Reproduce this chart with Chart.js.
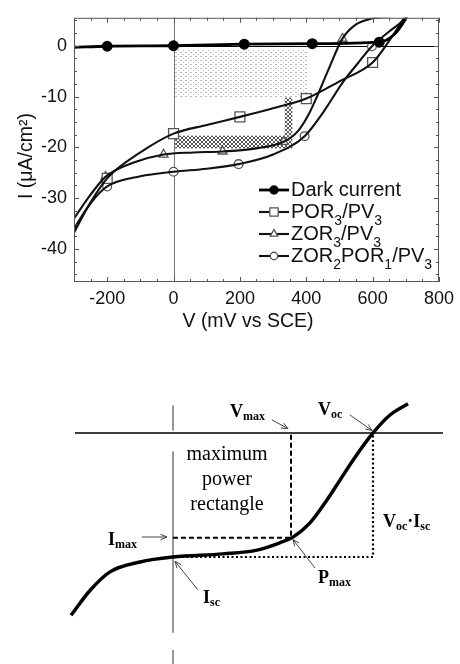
<!DOCTYPE html>
<html>
<head>
<meta charset="utf-8">
<script src="https://cdn.jsdelivr.net/npm/chart.js@4.4.1/dist/chart.umd.min.js"></script>
<style>
  body { margin: 0; background: #fff; }
  canvas { position: absolute; left: 0; }
  #ivChart { top: 0; }
  #sketchChart { top: 335px; }
</style>
</head>
<body>
<canvas id="ivChart" width="460" height="335"></canvas>
<canvas id="sketchChart" width="460" height="329"></canvas>
<script>
// I-V curves, V in mV vs SCE, I in uA/cm2
const darkV = [-300, -200, 0, 213, 418, 620, 665, 695, 720];
const darkI = [-0.3, -0.1, 0, 0.3, 0.4, 0.7, 2.2, 4.8, 8.0];
const darkMarkV = [-200, 0, 213, 418, 620];
const darkMarkI = [-0.1, 0, 0.3, 0.4, 0.7];

const porV = [-300, -250, -200, -100, 0, 100, 200, 300, 400, 500, 600, 645, 695, 730];
const porI = [-36.8, -30.8, -26.1, -21.0, -17.3, -15.6, -14.0, -12.3, -10.4, -7.0, -3.3, 0.5, 5.5, 9.5];
const porMarkV = [-200, 0, 200, 400, 600];
const porMarkI = [-26.1, -17.3, -14.0, -10.4, -3.3];

const zorV = [-300, -250, -205, -120, -30, 60, 148, 250, 332, 375, 405, 435, 470, 509, 550, 600, 660, 720];
const zorI = [-34.0, -29.3, -25.8, -23.0, -21.4, -21.0, -20.8, -20.2, -18.9, -16.8, -13.8, -9.6, -4.2, 1.4, 4.2, 5.4, 5.9, 7.0];
const zorMarkV = [-205, -30, 148, 332, 509];
const zorMarkI = [-25.8, -21.4, -20.8, -18.9, 1.4];

const zor2V = [-300, -250, -200, -100, 0, 100, 196, 300, 395, 450, 510, 555, 598, 650, 700, 730];
const zor2I = [-36.0, -31.0, -27.7, -25.7, -24.8, -24.2, -23.3, -21.4, -17.8, -13.2, -7.2, -3.5, -0.1, 2.8, 5.5, 8.5];
const zor2MarkV = [-200, 0, 196, 395, 598];
const zor2MarkI = [-27.7, -24.8, -23.3, -17.8, -0.1];

const seriesLabels = [
  [['Dark current', 0]],
  [['POR', 0], ['3', 1], ['/PV', 0], ['3', 1]],
  [['ZOR', 0], ['3', 1], ['/PV', 0], ['3', 1]],
  [['ZOR', 0], ['2', 1], ['POR', 0], ['1', 1], ['/PV', 0], ['3', 1]]
];

// shaded power areas: [V from, V to, I from, I to]
const dottedBox = [5, 403, -0.8, -10.2];
const hatchBoxes = [[5, 358, -17.7, -20.2], [335, 358, -10.2, -17.7]];

const xTicks = [-200, 0, 200, 400, 600, 800];
const yTicks = [-40, -30, -20, -10, 0];

// schematic curve (V / Voc, I / Isc)
const sketchV = [-0.51, -0.415, -0.315, -0.165, 0, 0.25, 0.42, 0.535, 0.60, 0.685, 0.77, 0.835, 0.90, 1.0, 1.085, 1.175];
const sketchI = [-1.47, -1.27, -1.12, -1.04, -1.0, -0.975, -0.945, -0.885, -0.84, -0.725, -0.54, -0.38, -0.22, 0, 0.145, 0.235];
const Voc = 1.0, Isc = -1.0, Vmax = 0.59, Imax = -0.845;

const pts = (xs, ys) => xs.map((v, k) => ({ x: v, y: ys[k] }));

function tile(w, h, color, cells) {
  const c = document.createElement('canvas');
  c.width = w; c.height = h;
  const g = c.getContext('2d');
  g.fillStyle = color;
  cells.forEach(([cx, cy]) => g.fillRect(cx, cy, 1, 1));
  return c;
}

// draws text with subscripts, returns end x
function drawParts(ctx, parts, x, y, font, subFont, subDy) {
  parts.forEach(([txt, sub]) => {
    ctx.font = sub ? subFont : font;
    ctx.fillText(txt, x, y + (sub ? subDy : 0));
    x += ctx.measureText(txt).width;
  });
  return x;
}

const ivDecor = {
  id: 'ivDecor',
  beforeDatasetsDraw(chart) {
    const { ctx, chartArea: a, scales: { x, y } } = chart;
    ctx.save();
    const box = (b) => [x.getPixelForValue(b[0]), y.getPixelForValue(b[2]),
      x.getPixelForValue(b[1]) - x.getPixelForValue(b[0]),
      y.getPixelForValue(b[3]) - y.getPixelForValue(b[2])];

    ctx.fillStyle = ctx.createPattern(tile(5, 4, '#b8b8b8', [[0, 0], [1, 0], [3, 2]]), 'repeat');
    ctx.fillRect(...box(dottedBox));
    ctx.fillStyle = ctx.createPattern(tile(4, 4, '#555',
      [[0, 0], [1, 1], [2, 2], [3, 3], [3, 0], [2, 1], [1, 2], [0, 3]]), 'repeat');
    hatchBoxes.forEach(b => ctx.fillRect(...box(b)));

    // zero lines
    ctx.lineWidth = 1;
    ctx.strokeStyle = '#777';
    const x0 = Math.round(x.getPixelForValue(0)) + 0.5;
    ctx.beginPath(); ctx.moveTo(x0, a.top); ctx.lineTo(x0, a.bottom); ctx.stroke();
    ctx.strokeStyle = '#000';
    const y0 = Math.round(y.getPixelForValue(0)) + 0.5;
    ctx.beginPath(); ctx.moveTo(a.left, y0); ctx.lineTo(a.right, y0); ctx.stroke();
    ctx.restore();
  },
  afterDatasetsDraw(chart) {
    const { ctx, chartArea: a, scales: { x, y } } = chart;
    ctx.save();
    // frame and inward ticks
    ctx.strokeStyle = '#555';
    ctx.lineWidth = 1;
    ctx.strokeRect(a.left + 0.5, a.top + 0.5, a.width - 1, a.height - 1);
    ctx.beginPath();
    for (let v = x.min; v <= x.max; v += 50) {
      const px = Math.round(x.getPixelForValue(v)) + 0.5;
      const len = v % 200 === 0 ? 5 : 3;
      ctx.moveTo(px, a.bottom); ctx.lineTo(px, a.bottom - len);
      ctx.moveTo(px, a.top); ctx.lineTo(px, a.top + len);
    }
    for (let i = -45; i <= y.max; i += 2.5) {
      const py = Math.round(y.getPixelForValue(i)) + 0.5;
      const len = i % 10 === 0 ? 5 : 3;
      ctx.moveTo(a.left, py); ctx.lineTo(a.left + len, py);
      ctx.moveTo(a.right, py); ctx.lineTo(a.right - len, py);
    }
    ctx.stroke();

    // legend
    ctx.fillStyle = '#111';
    ctx.textBaseline = 'middle';
    const rowY = [190, 212, 234, 256];
    seriesLabels.forEach((parts, k) => {
      const ds = chart.data.datasets[k + 4];
      const line = chart.data.datasets[k];
      const ly = rowY[k];
      ctx.strokeStyle = line.borderColor;
      ctx.lineWidth = line.borderWidth;
      ctx.beginPath(); ctx.moveTo(259, ly); ctx.lineTo(289, ly); ctx.stroke();
      ctx.fillStyle = ds.pointBackgroundColor;
      ctx.strokeStyle = ds.pointBorderColor;
      ctx.lineWidth = ds.pointBorderWidth;
      Chart.helpers.drawPoint(ctx, {
        pointStyle: ds.pointStyle, radius: ds.pointRadius * 0.85, rotation: 0,
        borderWidth: ds.pointBorderWidth
      }, 274, ly);
      ctx.fillStyle = '#111';
      drawParts(ctx, parts, 291, ly, '20px "Liberation Sans"', '14px "Liberation Sans"', 9);
    });

    // axis titles
    ctx.font = '19.5px "Liberation Sans"';
    ctx.textAlign = 'center';
    ctx.fillText('V (mV vs SCE)', 248, 322);
    ctx.translate(27, 156);
    ctx.rotate(-Math.PI / 2);
    ctx.fillText('I (\u03bcA/cm\u00b2)', 0, 0);
    ctx.restore();
  }
};

const curveStyle = (color, width) => ({
  borderColor: color, borderWidth: width, pointRadius: 0, fill: false,
  tension: 0.4, cubicInterpolationMode: 'monotone'
});
const markStyle = (style, r, bg, border) => ({
  showLine: false, pointStyle: style, pointRadius: r, pointBackgroundColor: bg,
  pointBorderColor: border, pointBorderWidth: 1.3, borderColor: border
});

new Chart(document.getElementById('ivChart'), {
  type: 'line',
  data: {
    datasets: [
      { label: 'Dark current', data: pts(darkV, darkI), ...curveStyle('#000', 2.8) },
      { label: 'POR3/PV3', data: pts(porV, porI), ...curveStyle('#111', 2.1) },
      { label: 'ZOR3/PV3', data: pts(zorV, zorI), ...curveStyle('#111', 2.1) },
      { label: 'ZOR2POR1/PV3', data: pts(zor2V, zor2I), ...curveStyle('#111', 2.1) },
      { data: pts(darkMarkV, darkMarkI), ...markStyle('circle', 4.8, '#000', '#000') },
      { data: pts(porMarkV, porMarkI), ...markStyle('rect', 7, '#fff', '#555') },
      { data: pts(zorMarkV, zorMarkI), ...markStyle('triangle', 5.2, '#fff', '#555') },
      { data: pts(zor2MarkV, zor2MarkI), ...markStyle('circle', 4.4, '#fff', '#555') }
    ]
  },
  options: {
    responsive: false,
    devicePixelRatio: 1,
    animation: false,
    layout: { padding: { top: 17, right: 17, left: 0, bottom: 0 } },
    scales: {
      x: {
        type: 'linear', min: -300, max: 800,
        afterBuildTicks: s => { s.ticks = xTicks.map(v => ({ value: v })); },
        afterFit: s => { s.height = 53; },
        grid: { display: false, drawTicks: false },
        border: { display: false },
        ticks: { color: '#111', padding: 6, maxRotation: 0, font: { family: 'Liberation Sans', size: 18 } }
      },
      y: {
        type: 'linear', min: -46.5, max: 5.5,
        afterBuildTicks: s => { s.ticks = yTicks.map(v => ({ value: v })); },
        afterFit: s => { s.width = 74; },
        grid: { display: false, drawTicks: false },
        border: { display: false },
        ticks: { color: '#111', padding: 7, font: { family: 'Liberation Sans', size: 18 } }
      }
    },
    plugins: { legend: { display: false }, tooltip: { enabled: false } }
  },
  plugins: [ivDecor]
});

// labels of the schematic, in V/Voc and I/Isc units
const sketchNotes = [
  { parts: [['V', 0], ['max', 1]], at: [0.285, 0.13], arrow: [[0.495, 0.105], [0.575, 0.035]] },
  { parts: [['V', 0], ['oc', 1]], at: [0.725, 0.145], arrow: [[0.885, 0.145], [0.995, 0.02]] },
  { parts: [['I', 0], ['max', 1]], at: [-0.325, -0.903], arrow: [[-0.155, -0.839], [-0.03, -0.839]] },
  { parts: [['I', 0], ['sc', 1]], at: [0.15, -1.371], arrow: [[0.125, -1.266], [0.01, -1.035]] },
  { parts: [['P', 0], ['max', 1]], at: [0.725, -1.21], arrow: [[0.71, -1.089], [0.6, -0.86]] },
  { parts: [['V', 0], ['oc', 1], ['\u00b7', 0], ['I', 0], ['sc', 1]], at: [1.05, -0.758] }
];
const boxWords = ['maximum', 'power', 'rectangle'];

const sketchDecor = {
  id: 'sketchDecor',
  afterDatasetsDraw(chart) {
    const { ctx, scales: { x, y } } = chart;
    const px = p => [x.getPixelForValue(p[0]), y.getPixelForValue(p[1])];
    ctx.save();
    ctx.fillStyle = '#000';
    ctx.textBaseline = 'alphabetic';
    sketchNotes.forEach(n => {
      const [tx, ty] = px(n.at);
      drawParts(ctx, n.parts, tx, ty, 'bold 18px "Liberation Serif"', 'bold 12px "Liberation Serif"', 3);
      if (!n.arrow) return;
      const [x1, y1] = px(n.arrow[0]);
      const [x2, y2] = px(n.arrow[1]);
      const ang = Math.atan2(y2 - y1, x2 - x1);
      ctx.strokeStyle = '#444';
      ctx.lineWidth = 1;
      ctx.beginPath();
      ctx.moveTo(x1, y1); ctx.lineTo(x2, y2);
      ctx.moveTo(x2 - 7 * Math.cos(ang - 0.4), y2 - 7 * Math.sin(ang - 0.4));
      ctx.lineTo(x2, y2);
      ctx.lineTo(x2 - 7 * Math.cos(ang + 0.4), y2 - 7 * Math.sin(ang + 0.4));
      ctx.stroke();
    });
    ctx.font = '20px "Liberation Serif"';
    ctx.textAlign = 'center';
    ctx.textBaseline = 'middle';
    const cx = x.getPixelForValue(Vmax / 2) - 5;
    boxWords.forEach((w, k) => {
      ctx.fillText(w, cx, y.getPixelForValue(-0.177 - k * 0.202));
    });
    ctx.restore();
  }
};

const straight = (data, color, width, dash, order) => ({
  data, borderColor: color, borderWidth: width, borderDash: dash,
  pointRadius: 0, tension: 0, fill: false, spanGaps: false, order
});

new Chart(document.getElementById('sketchChart'), {
  type: 'line',
  data: {
    datasets: [
      { data: pts(sketchV, sketchI), borderColor: '#000', borderWidth: 3.5, pointRadius: 0,
        tension: 0.4, cubicInterpolationMode: 'monotone', fill: false, order: 0 },
      straight([{ x: -0.49, y: 0 }, { x: 1.35, y: 0 }], '#000', 1.5, [], 3),
      straight([{ x: 0, y: 0.22 }, { x: 0, y: 0.02 }, { x: 0, y: null },
        { x: 0, y: -0.15 }, { x: 0, y: -1.61 }, { x: 0, y: null },
        { x: 0, y: -1.75 }, { x: 0, y: -1.9 }], '#888', 1, [], 4),
      straight([{ x: 0, y: Imax }, { x: Vmax, y: Imax }, { x: Vmax, y: 0 }], '#000', 2, [5, 3], 2),
      straight([{ x: 0, y: Isc }, { x: Voc, y: Isc }, { x: Voc, y: 0 }], '#000', 2.2, [2, 2.5], 1)
    ]
  },
  options: {
    responsive: false,
    devicePixelRatio: 1,
    animation: false,
    layout: { padding: 0 },
    scales: {
      x: { type: 'linear', min: -0.865, max: 1.435, display: false },
      y: { type: 'linear', min: -1.863, max: 0.79, display: false }
    },
    plugins: { legend: { display: false }, tooltip: { enabled: false } }
  },
  plugins: [sketchDecor]
});
</script>
</body>
</html>
